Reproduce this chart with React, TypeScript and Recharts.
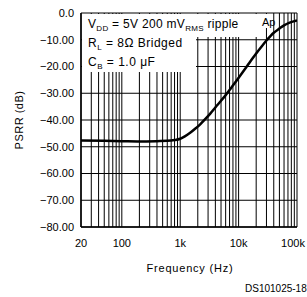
import { LineChart, Line, XAxis, YAxis, CartesianGrid } from "recharts"

// PSRR vs frequency
const freqHz = [
  20, 50, 100, 200, 400, 600, 800, 1000, 1200, 1500, 1800, 2200, 2700, 3300, 4000, 5000, 6000, 7500, 9000,
  11000, 14000, 17000, 20000, 25000, 30000, 40000, 50000, 60000, 75000, 100000,
]
const psrrDb = [
  -47.7, -47.8, -47.9, -48.0, -47.9, -47.8, -47.5, -47.0, -46.1, -44.7, -43.3, -41.6, -39.6, -37.5, -35.3, -32.8, -30.7,
  -27.9, -25.6, -23.0, -19.8, -17.2, -15.1, -12.4, -10.3, -7.4, -5.8, -4.6, -3.6, -2.8,
]

// log grid: 20..90, 100..900, ... 100k
const gridFreqs = [
  20, 30, 40, 50, 60, 70, 80, 90, 100, 200, 300, 400, 500, 600, 700, 800, 900, 1000, 2000, 3000, 4000, 5000, 6000,
  7000, 8000, 9000, 10000, 20000, 30000, 40000, 50000, 60000, 70000, 80000, 90000, 100000,
]
const xLabels: Record<number, string> = { 20: "20", 100: "100", 1000: "1k", 10000: "10k", 100000: "100k" }
const yTicks = [0, -10, -20, -30, -40, -50, -60, -70, -80]

const data = freqHz.map((f, i) => ({ f, psrr: psrrDb[i] }))

const font = "'Liberation Sans', Arial, sans-serif"

const fmtY = (v: number) => (v === 0 ? "0.0" : `\u2212${Math.abs(v).toFixed(2)}`)

// x tick: only decade labels; last one pulled in a bit so it stays on the page
function FreqTick(props: any) {
  const { x, y, payload } = props
  const label = xLabels[payload.value]
  if (!label) return null
  const shift = payload.value === 100000 ? -4 : 0
  return (
    <text x={x + shift} y={y} dy="0.71em" textAnchor="middle" fontSize={11} fontFamily={font} fill="#000">
      {label}
    </text>
  )
}

export default function App() {
  return (
    <div style={{ position: "absolute", left: 0, top: 0, width: 307, height: 297, background: "#fff" }}>
      <div style={{ position: "absolute", left: 0, top: 0 }}>
        <LineChart width={307} height={297} data={data} margin={{ top: 13, right: 10, bottom: 40, left: 0 }}>
          <CartesianGrid stroke="#000" strokeWidth={1} />
          <XAxis
            dataKey="f"
            type="number"
            scale="log"
            domain={[20, 100000]}
            ticks={gridFreqs}
            interval={0}
            allowDataOverflow
            tickLine={false}
            tickSize={10}
            tickMargin={2}
            height={30}
            axisLine={{ stroke: "#000", strokeWidth: 1.5 }}
            tick={<FreqTick />}
          />
          <YAxis
            type="number"
            domain={[-80, 0]}
            ticks={yTicks}
            interval={0}
            tickFormatter={fmtY}
            tickLine={false}
            tickSize={5}
            tickMargin={2}
            width={81}
            axisLine={{ stroke: "#000", strokeWidth: 1.5 }}
            tick={{ fill: "#000", fontSize: 11, fontFamily: font }}
          />
          <Line
            type="monotone"
            dataKey="psrr"
            stroke="#000"
            strokeWidth={2.5}
            dot={false}
            isAnimationActive={false}
          />
        </LineChart>
      </div>
      <svg
        width={307}
        height={297}
        style={{ position: "absolute", left: 0, top: 0, pointerEvents: "none" }}
        fontFamily={font}
        fill="#000"
      >
        {/* condition box */}
        <rect x={82} y={14} width={175} height={23} fill="#fff" />
        <rect x={82} y={14} width={114} height={58} fill="#fff" />
        <rect x={258} y={14} width={14} height={14} fill="#fff" />
        <text x={88} y={28} fontSize={12} letterSpacing={0.3}>
          V<tspan fontSize={8} dy={3}>DD</tspan>
          <tspan dy={-3}> = 5V 200 mV</tspan>
          <tspan fontSize={8} dy={3}>RMS</tspan>
          <tspan dy={-3}> ripple</tspan>
        </text>
        <text x={88} y={47} fontSize={12} letterSpacing={0.5}>
          R<tspan fontSize={8} dy={3}>L</tspan>
          <tspan dy={-3}>{"  = 8\u03a9 Bridged"}</tspan>
        </text>
        <text x={88} y={66} fontSize={12} letterSpacing={0.5}>
          C<tspan fontSize={8} dy={3}>B</tspan>
          <tspan dy={-3}>{"  = 1.0 \u03bcF"}</tspan>
        </text>
        <text x={262} y={26} fontSize={11}>
          Ap
        </text>
        <text x={20} y={120} fontSize={11} letterSpacing={0.5} textAnchor="middle" transform="rotate(-90 20 120)" dominantBaseline="middle">
          PSRR (dB)
        </text>
        <text x={190} y={272} fontSize={11} letterSpacing={0.8} textAnchor="middle">
          Frequency (Hz)
        </text>
        <text x={245} y={292} fontSize={10}>
          DS101025-18
        </text>
      </svg>
    </div>
  )
}
